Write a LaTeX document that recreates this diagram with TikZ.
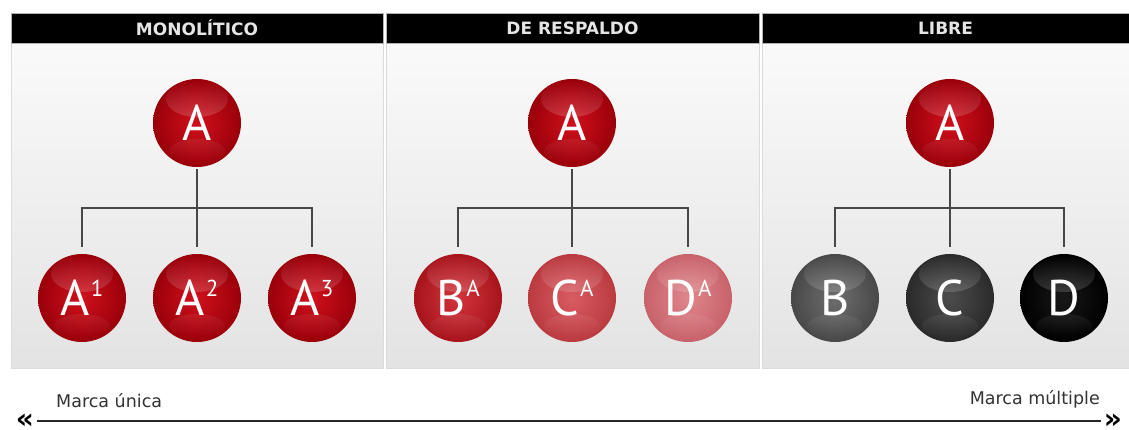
\documentclass[tikz,border=0pt]{standalone}
\usepackage{fontspec}
\setmainfont{DejaVu Sans}
\newfontfamily\ballfamily{PT Sans}
\usetikzlibrary{fadings}
\newcommand\bsup[1]{\kern1pt\raisebox{19pt}{\fontsize{23}{23}\selectfont #1}}
\definecolor{rA}{HTML}{D0101C}\definecolor{rAo}{HTML}{9A000A}
\definecolor{rB}{HTML}{D2343B}\definecolor{rBo}{HTML}{A8141C}
\definecolor{rC}{HTML}{D95C62}\definecolor{rCo}{HTML}{BA3A40}
\definecolor{rD}{HTML}{E0868A}\definecolor{rDo}{HTML}{C8626A}
\definecolor{gB}{HTML}{6E6E6E}\definecolor{gBo}{HTML}{484848}
\definecolor{gC}{HTML}{4C4C4C}\definecolor{gCo}{HTML}{2A2A2A}
\definecolor{gD}{HTML}{181818}\definecolor{gDo}{HTML}{000000}
\tikzset{
  ball/.style 2 args={circle, minimum size=88pt, inner sep=0pt, text=white,
    font=\ballfamily\fontsize{50}{50}\selectfont,
    inner color=#1, outer color=#2,
    path picture={
      \fill[white, opacity=0.38, path fading=north]
        ([yshift=24pt]path picture bounding box.center) ellipse (31pt and 18pt);
      \fill[white, opacity=0.07, path fading=south]
        ([yshift=-28pt]path picture bounding box.center) ellipse (28pt and 12pt);
    }},
  header/.style={fill=black, draw=gray!60, line width=0.8pt, minimum height=30pt,
    inner sep=0pt, text=white!90!black, font=\bfseries\fontsize{17}{17}\selectfont},
  conn/.style={draw=black!72, line width=1.6pt},
  label/.style={text=black!80, font=\fontsize{17.5}{17.5}\selectfont, inner sep=0pt},
  chev/.style={text=black, font=\bfseries\fontsize{28}{28}\selectfont, inner sep=0pt},
  panel/.style={top color=white!98!black, bottom color=white!89!black, draw=white!86!black, line width=0.5pt}
}
\begin{document}
\begin{tikzpicture}[x=1pt,y=-1pt]
\useasboundingbox (0,0) rectangle (1129,430);
\fill[white] (0,0) rectangle (1129,430);
% panels
\shade[panel] (11,43) rectangle (383,368);
\shade[panel] (386,43) rectangle (759,368);
\shade[panel] (762,43) rectangle (1129,368);
\node[header, minimum width=372pt] (h1) at (197,28) {MONOLÍTICO};
\node[header, minimum width=373pt] (h2) at (572.5,28) {DE RESPALDO};
\node[header, minimum width=367pt] (h3) at (945.5,28) {LIBRE};
% panel 1
\node[ball={rA}{rAo}] (p1) at (197,123) {A};
\node[ball={rA}{rAo}] (p1a) at (82,298) {A\bsup{1}};
\node[ball={rA}{rAo}] (p1b) at (197,298) {A\bsup{2}};
\node[ball={rA}{rAo}] (p1c) at (312,298) {A\bsup{3}};
\coordinate (j1) at (197,208);
% panel 2
\node[ball={rA}{rAo}] (p2) at (572,123) {A};
\node[ball={rB}{rBo}] (p2a) at (458,298) {B\bsup{A}};
\node[ball={rC}{rCo}] (p2b) at (572,298) {C\bsup{A}};
\node[ball={rD}{rDo}] (p2c) at (688,298) {D\bsup{A}};
\coordinate (j2) at (572,208);
% panel 3
\node[ball={rA}{rAo}] (p3) at (950,123) {A};
\node[ball={gB}{gBo}] (p3a) at (835,298) {B};
\node[ball={gC}{gCo}] (p3b) at (950,298) {C};
\node[ball={gD}{gDo}] (p3c) at (1064,298) {D};
\coordinate (j3) at (950,208);
% connectors
\foreach \t/\j/\a/\b/\c in {p1/j1/p1a/p1b/p1c, p2/j2/p2a/p2b/p2c, p3/j3/p3a/p3b/p3c}{
  \draw[conn, shorten <=2pt] (\t) -- (\j);
  \draw[conn, shorten >=7pt] (\j) -| (\a);
  \draw[conn, shorten >=7pt] (\j) -- (\b);
  \draw[conn, shorten >=7pt] (\j) -| (\c);
}
% bottom scale
\node[label, anchor=base west] (l1) at (56,407) {Marca única};
\node[label, anchor=base east] (l2) at (1100,404) {Marca múltiple};
\node[chev] (cl) at (25,421) {«};
\node[chev] (cr) at (1113,421) {»};
\draw[line width=2.6pt, draw=black!85, shorten <=3pt, shorten >=3pt] (cl) -- (cr);
\end{tikzpicture}
\end{document}
